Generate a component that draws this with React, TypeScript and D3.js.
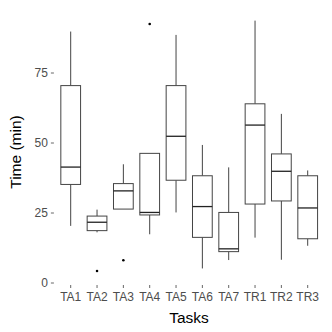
import React from "react";
import * as d3 from "d3";

const tasks = ["TA1", "TA2", "TA3", "TA4", "TA5", "TA6", "TA7", "TR1", "TR2", "TR3"];
const lowerWhisker = [20.4, 18.1, 26.4, 17.4, 25.2, 5.2, 8.2, 16.2, 8.3, 13.3];
const q1 = [35.2, 18.7, 26.4, 24.3, 36.7, 16.3, 11.2, 28.2, 29.3, 15.8];
const medians = [41.4, 21.7, 32.9, 25.2, 52.4, 27.3, 12.2, 56.4, 39.9, 26.8];
const q3 = [70.5, 23.9, 35.5, 46.3, 70.5, 38.3, 25.2, 64.0, 46.1, 38.3];
const upperWhisker = [89.8, 26.2, 42.4, 46.3, 88.6, 49.3, 41.3, 93.7, 60.4, 40.2];
const outlierTasks = ["TA2", "TA3", "TA4"];
const outlierValues = [4.3, 8.1, 92.5];
const yTicks = [0, 25, 50, 75];

const W = 332;
const H = 332;
const FONT = "'Liberation Sans', Arial, Helvetica, sans-serif";

export default function App() {
  const x = d3.scalePoint<string>().domain(tasks).range([54.9, 323.5]).padding(0.6);
  const step = x.step();
  const boxW = step * 0.75;
  const y = d3.scaleLinear().domain([0, 75]).range([283, 73]);
  const panelLeft = 54.9;
  const panelBottom = 284.5;
  const stroke = "#444444";

  return (
    <svg
      width={W}
      height={H}
      style={{ position: "absolute", left: 0, top: 0, background: "#fff" }}
      fontFamily={FONT}
    >
      <rect x={0} y={0} width={W} height={H} fill="#ffffff" />
      {tasks.map((t, i) => {
        const cx = x(t) as number;
        return (
          <g key={t}>
            <line x1={cx} x2={cx} y1={y(q3[i])} y2={y(upperWhisker[i])} stroke={stroke} strokeWidth={1} />
            <line x1={cx} x2={cx} y1={y(q1[i])} y2={y(lowerWhisker[i])} stroke={stroke} strokeWidth={1} />
            <rect
              x={cx - boxW / 2}
              y={y(q3[i])}
              width={boxW}
              height={y(q1[i]) - y(q3[i])}
              fill="#ffffff"
              stroke={stroke}
              strokeWidth={1}
            />
            <line
              x1={cx - boxW / 2}
              x2={cx + boxW / 2}
              y1={y(medians[i])}
              y2={y(medians[i])}
              stroke="#222"
              strokeWidth={1.3}
            />
          </g>
        );
      })}
      {outlierTasks.map((t, i) => (
        <circle key={i} cx={x(t) as number} cy={y(outlierValues[i])} r={1.3} fill="#000" />
      ))}
      {yTicks.map((v) => (
        <g key={v}>
          <line x1={panelLeft - 4} x2={panelLeft - 1} y1={y(v)} y2={y(v)} stroke="#666" strokeWidth={1} />
          <text x={panelLeft - 7} y={y(v)} dy="0.35em" textAnchor="end" fontSize={12} fill="#4d4d4d">
            {v}
          </text>
        </g>
      ))}
      {tasks.map((t) => (
        <g key={t}>
          <line x1={x(t) as number} x2={x(t) as number} y1={panelBottom + 0.5} y2={panelBottom + 3.5} stroke="#666" strokeWidth={1} />
          <text x={x(t) as number} y={300.5} textAnchor="middle" fontSize={12} fill="#4d4d4d">
            {t}
          </text>
        </g>
      ))}
      <text x={189} y={322.5} textAnchor="middle" fontSize={15.5} fill="#000">
        Tasks
      </text>
      <text
        transform={`translate(20.5, 152) rotate(-90)`}
        textAnchor="middle"
        fontSize={15.5}
        fill="#000"
      >
        Time (min)
      </text>
    </svg>
  );
}
